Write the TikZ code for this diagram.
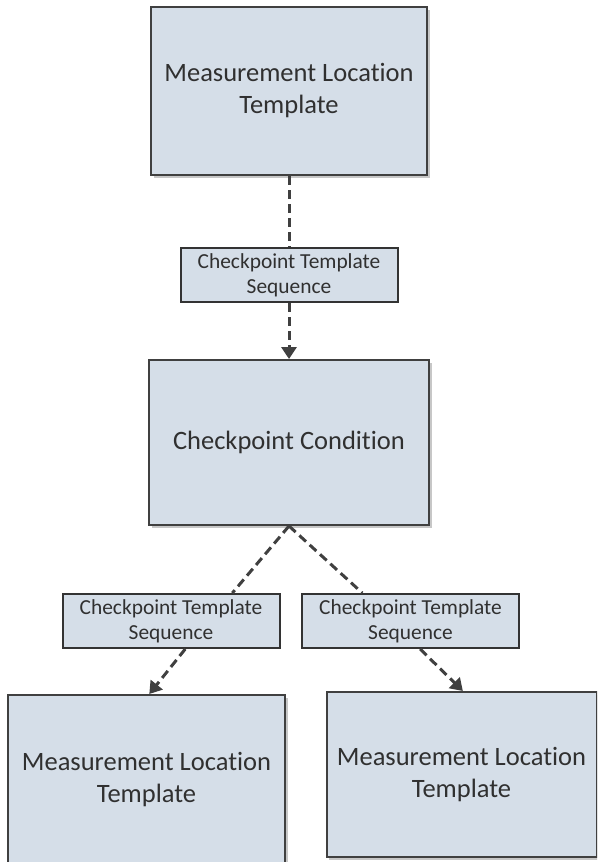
\documentclass[tikz,border=0pt]{standalone}
\usepackage{fontspec}
\setmainfont{Carlito}[Ligatures={NoCommon,NoRare,NoContextual}]
\usetikzlibrary{arrows.meta,positioning,calc,shadows}
\definecolor{boxfill}{RGB}{213,222,232}
\definecolor{boxline}{RGB}{64,64,64}
\definecolor{txtgray}{RGB}{48,48,48}
\tikzset{
  ent/.style={draw=boxline, fill=boxfill, line width=2pt, text=txtgray, align=center,
              inner sep=0pt, font=\fontsize{26.5}{32}\selectfont,
              drop shadow={shadow xshift=2.5pt, shadow yshift=-2.5pt, fill=black, opacity=.22}},
  rel/.style={draw=boxline!80!black, fill=boxfill, line width=2pt, text=txtgray, align=center,
              inner sep=0pt, minimum width=217pt, minimum height=54pt,
              font=\fontsize{21.4}{25}\selectfont},
  link/.style={dash pattern=on 9pt off 5pt, line width=3pt, draw=boxline},
  linkarr/.style={link, -{Triangle[length=12pt,width=15pt]}},
}
\begin{document}
\begin{tikzpicture}[x=1pt, y=-1pt]
    \clip (0,0) rectangle (597,862);
    \node[ent, minimum width=276pt, minimum height=168pt] (mlt) at (289,91) {Measurement Location\\Template};
    \node[rel, below=71pt of mlt] (cts) {Checkpoint Template\\Sequence};
    \node[ent, minimum width=280pt, minimum height=165pt, below=56pt of cts] (cond) {Checkpoint Condition};
    \node[rel] (ctsl) at (171,621) {Checkpoint Template\\Sequence};
    \node[rel] (ctsr) at (410.5,621) {Checkpoint Template\\Sequence};
    \node[ent, minimum width=277pt, minimum height=169pt] (mltl) at (146.5,779.5) {Measurement Location\\Template};
    \node[ent, minimum width=270pt, minimum height=165pt] (mltr) at (461.5,774.5) {Measurement Location\\Template};
    % top chain
    \draw[link] (mlt) -- (cts);
    \draw[linkarr] (cts) -- (cond);
    % branches
    \draw[link] (cond.south) -- ($(ctsl.north west)!0.78!(ctsl.north east)$);
    \draw[link] (cond.south) -- ($(ctsr.north west)!0.28!(ctsr.north east)$);
    \draw[linkarr] ($(ctsl.south west)!0.565!(ctsl.south east)$) -- ($(mltl.north west)!0.51!(mltl.north east)$);
    \draw[linkarr] ($(ctsr.south west)!0.544!(ctsr.south east)$) -- ($(mltr.north west)!0.505!(mltr.north east)$);
\end{tikzpicture}
\end{document}
